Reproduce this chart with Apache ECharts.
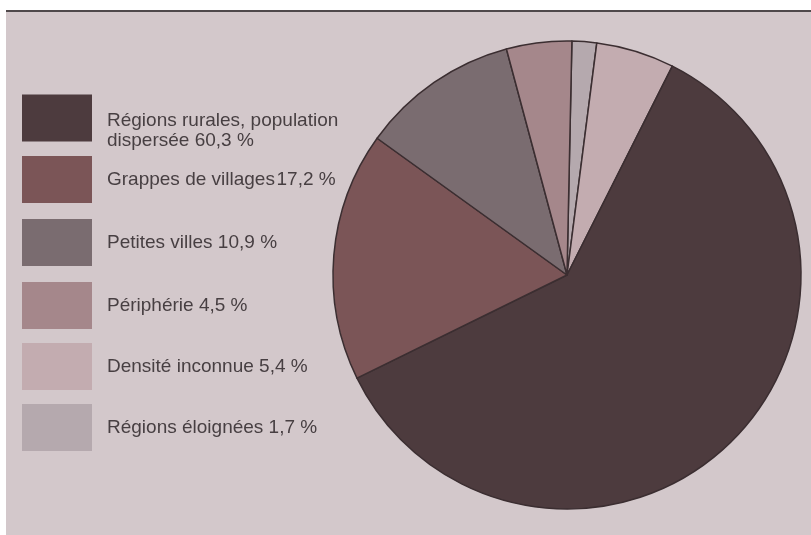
<!DOCTYPE html>
<html>
<head>
<meta charset="utf-8">
<style>
  html, body { margin: 0; padding: 0; background: #ffffff; }
  #chart { width: 811px; height: 535px; }
</style>
<script src="https://cdn.jsdelivr.net/npm/echarts@6/dist/echarts.min.js"></script>
</head>
<body>
<div id="chart"></div>
<script>
// Population distribution by settlement type (legend order)
const categories = [
  'Régions rurales, population\ndispersée',
  'Grappes de villages',
  'Petites villes',
  'Périphérie',
  'Densité inconnue',
  'Régions éloignées'
];
const shares = [60.3, 17.2, 10.9, 4.5, 5.4, 1.7];
const sliceColors = ['#4d3b3e', '#7b5557', '#7a6c70', '#a5878b', '#c3acb0', '#b5a9ae'];
// Clockwise order of the slices, starting just right of twelve o'clock
const sliceOrder = [5, 4, 0, 1, 2, 3];

const fmt = v => v.toFixed(1).replace('.', ',') + ' %';

const chart = echarts.init(document.getElementById('chart'), null, { renderer: 'canvas' });

const baseText = {
  fontFamily: 'Liberation Sans, Arial, sans-serif',
  fontSize: 19,
  color: '#473f42',
  lineHeight: 20,
  padding: [0, 0, 0, 10]
};

// Legend label: the two-line entry sits lower than its swatch
function legendLabel(i) {
  const name = categories[i];
  if (i === 0) {
    const lines = name.split('\n');
    return '{s| }\n{t|' + lines[0] + '}\n{t|' + lines[1] + ' ' + fmt(shares[i]) + '}';
  }
  return name + (i === 1 ? '\u200a' : ' ') + fmt(shares[i]);
}

// The first entry's box starts above its swatch because of the spacer line
const legendTops = [85, 156, 219, 282, 343, 404];
const legends = categories.map((name, i) => ({
  data: [{ name: name, icon: 'rect' }],
  orient: 'vertical',
  left: 22,
  top: legendTops[i],
  padding: 0,
  itemWidth: 70,
  itemHeight: 47,
  selectedMode: false,
  itemStyle: { borderWidth: 0 },
  formatter: () => legendLabel(i),
  textStyle: Object.assign({}, baseText, i === 0 ? {
    rich: {
      s: { fontSize: 10, lineHeight: 26 },
      t: { fontFamily: baseText.fontFamily, fontSize: 19, lineHeight: 20, color: baseText.color }
    }
  } : {})
}));

chart.setOption({
  backgroundColor: '#ffffff',
  animation: false,
  color: sliceColors,
  graphic: [
    { type: 'rect', z: -10, shape: { x: 6, y: 10, width: 805, height: 525 }, style: { fill: '#d3c8cb' } },
    { type: 'rect', z: -9, shape: { x: 6, y: 10, width: 805, height: 2 }, style: { fill: '#4f494b' } }
  ],
  legend: legends,
  series: [{
    type: 'pie',
    center: [567, 275],
    radius: 234,
    startAngle: 88.8,
    clockwise: true,
    silent: true,
    label: { show: false },
    labelLine: { show: false },
    itemStyle: { borderColor: '#3b2e31', borderWidth: 1.5 },
    emphasis: { disabled: true },
    data: sliceOrder.map(i => ({
      name: categories[i],
      value: shares[i],
      itemStyle: { color: sliceColors[i] }
    }))
  }]
});
</script>
</body>
</html>
